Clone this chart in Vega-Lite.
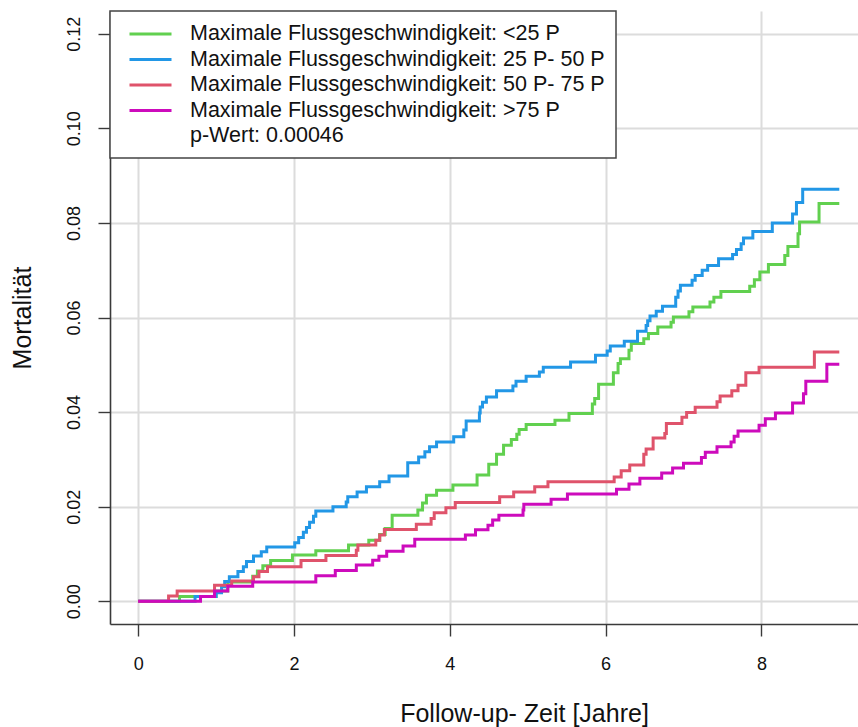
{
  "$schema": "https://vega.github.io/schema/vega-lite/v6.json",
  "autosize": {"type": "none"},
  "padding": {"left": 110, "top": 11, "right": 0, "bottom": 103},
  "width": 748,
  "height": 613,
  "background": "white",
  "config": {
    "view": {"stroke": null},
    "font": "Liberation Sans",
    "axis": {
      "labelFont": "Liberation Sans",
      "titleFont": "Liberation Sans",
      "labelColor": "#111",
      "titleColor": "#111",
      "labelFontSize": 18,
      "titleFontSize": 25,
      "titleFontWeight": "normal",
      "domainColor": "#3a3a3a",
      "domainWidth": 1.6,
      "tickColor": "#3a3a3a",
      "tickWidth": 1.4,
      "tickSize": 12,
      "gridColor": "#dcdcdc",
      "gridWidth": 2
    },
    "legend": {
      "strokeColor": "#444",
      "strokeWidth": 1.5,
      "fillColor": "white",
      "padding": 11
    }
  },
  "data": {
    "values": [
      {"g": "Maximale Flussgeschwindigkeit: <25 P", "t": 0, "y": 0},
      {"g": "Maximale Flussgeschwindigkeit: <25 P", "t": 0.53, "y": 0.001},
      {"g": "Maximale Flussgeschwindigkeit: <25 P", "t": 1.0, "y": 0.0022},
      {"g": "Maximale Flussgeschwindigkeit: <25 P", "t": 1.15, "y": 0.0041},
      {"g": "Maximale Flussgeschwindigkeit: <25 P", "t": 1.47, "y": 0.0053},
      {"g": "Maximale Flussgeschwindigkeit: <25 P", "t": 1.53, "y": 0.0064},
      {"g": "Maximale Flussgeschwindigkeit: <25 P", "t": 1.6, "y": 0.0075},
      {"g": "Maximale Flussgeschwindigkeit: <25 P", "t": 1.7, "y": 0.0086},
      {"g": "Maximale Flussgeschwindigkeit: <25 P", "t": 1.98, "y": 0.0098},
      {"g": "Maximale Flussgeschwindigkeit: <25 P", "t": 2.28, "y": 0.0107},
      {"g": "Maximale Flussgeschwindigkeit: <25 P", "t": 2.7, "y": 0.0119},
      {"g": "Maximale Flussgeschwindigkeit: <25 P", "t": 2.96, "y": 0.0129},
      {"g": "Maximale Flussgeschwindigkeit: <25 P", "t": 3.1, "y": 0.0141},
      {"g": "Maximale Flussgeschwindigkeit: <25 P", "t": 3.17, "y": 0.0154},
      {"g": "Maximale Flussgeschwindigkeit: <25 P", "t": 3.26, "y": 0.0182},
      {"g": "Maximale Flussgeschwindigkeit: <25 P", "t": 3.59, "y": 0.0193},
      {"g": "Maximale Flussgeschwindigkeit: <25 P", "t": 3.65, "y": 0.0208},
      {"g": "Maximale Flussgeschwindigkeit: <25 P", "t": 3.7, "y": 0.0224},
      {"g": "Maximale Flussgeschwindigkeit: <25 P", "t": 3.83, "y": 0.0235},
      {"g": "Maximale Flussgeschwindigkeit: <25 P", "t": 4.04, "y": 0.0246},
      {"g": "Maximale Flussgeschwindigkeit: <25 P", "t": 4.35, "y": 0.0267},
      {"g": "Maximale Flussgeschwindigkeit: <25 P", "t": 4.5, "y": 0.029},
      {"g": "Maximale Flussgeschwindigkeit: <25 P", "t": 4.6, "y": 0.0311},
      {"g": "Maximale Flussgeschwindigkeit: <25 P", "t": 4.69, "y": 0.033},
      {"g": "Maximale Flussgeschwindigkeit: <25 P", "t": 4.79, "y": 0.0342},
      {"g": "Maximale Flussgeschwindigkeit: <25 P", "t": 4.86, "y": 0.0353},
      {"g": "Maximale Flussgeschwindigkeit: <25 P", "t": 4.89, "y": 0.0363},
      {"g": "Maximale Flussgeschwindigkeit: <25 P", "t": 4.98, "y": 0.0374},
      {"g": "Maximale Flussgeschwindigkeit: <25 P", "t": 5.35, "y": 0.0383},
      {"g": "Maximale Flussgeschwindigkeit: <25 P", "t": 5.53, "y": 0.0397},
      {"g": "Maximale Flussgeschwindigkeit: <25 P", "t": 5.83, "y": 0.0417},
      {"g": "Maximale Flussgeschwindigkeit: <25 P", "t": 5.86, "y": 0.0429},
      {"g": "Maximale Flussgeschwindigkeit: <25 P", "t": 5.91, "y": 0.0459},
      {"g": "Maximale Flussgeschwindigkeit: <25 P", "t": 6.1, "y": 0.0483},
      {"g": "Maximale Flussgeschwindigkeit: <25 P", "t": 6.16, "y": 0.0503},
      {"g": "Maximale Flussgeschwindigkeit: <25 P", "t": 6.19, "y": 0.0513},
      {"g": "Maximale Flussgeschwindigkeit: <25 P", "t": 6.3, "y": 0.0531},
      {"g": "Maximale Flussgeschwindigkeit: <25 P", "t": 6.33, "y": 0.0545},
      {"g": "Maximale Flussgeschwindigkeit: <25 P", "t": 6.49, "y": 0.0555},
      {"g": "Maximale Flussgeschwindigkeit: <25 P", "t": 6.55, "y": 0.0566},
      {"g": "Maximale Flussgeschwindigkeit: <25 P", "t": 6.67, "y": 0.058},
      {"g": "Maximale Flussgeschwindigkeit: <25 P", "t": 6.84, "y": 0.059},
      {"g": "Maximale Flussgeschwindigkeit: <25 P", "t": 6.87, "y": 0.0601},
      {"g": "Maximale Flussgeschwindigkeit: <25 P", "t": 7.07, "y": 0.0612},
      {"g": "Maximale Flussgeschwindigkeit: <25 P", "t": 7.12, "y": 0.0622},
      {"g": "Maximale Flussgeschwindigkeit: <25 P", "t": 7.34, "y": 0.0633},
      {"g": "Maximale Flussgeschwindigkeit: <25 P", "t": 7.39, "y": 0.0643},
      {"g": "Maximale Flussgeschwindigkeit: <25 P", "t": 7.48, "y": 0.0655},
      {"g": "Maximale Flussgeschwindigkeit: <25 P", "t": 7.85, "y": 0.0666},
      {"g": "Maximale Flussgeschwindigkeit: <25 P", "t": 7.91, "y": 0.068},
      {"g": "Maximale Flussgeschwindigkeit: <25 P", "t": 7.98, "y": 0.0696},
      {"g": "Maximale Flussgeschwindigkeit: <25 P", "t": 8.09, "y": 0.0712},
      {"g": "Maximale Flussgeschwindigkeit: <25 P", "t": 8.3, "y": 0.0731},
      {"g": "Maximale Flussgeschwindigkeit: <25 P", "t": 8.34, "y": 0.075},
      {"g": "Maximale Flussgeschwindigkeit: <25 P", "t": 8.47, "y": 0.0777},
      {"g": "Maximale Flussgeschwindigkeit: <25 P", "t": 8.49, "y": 0.0802},
      {"g": "Maximale Flussgeschwindigkeit: <25 P", "t": 8.74, "y": 0.0841},
      {"g": "Maximale Flussgeschwindigkeit: <25 P", "t": 9.0, "y": 0.0841},

      {"g": "Maximale Flussgeschwindigkeit: 25 P- 50 P", "t": 0, "y": 0},
      {"g": "Maximale Flussgeschwindigkeit: 25 P- 50 P", "t": 0.73, "y": 0.001},
      {"g": "Maximale Flussgeschwindigkeit: 25 P- 50 P", "t": 1.0, "y": 0.0018},
      {"g": "Maximale Flussgeschwindigkeit: 25 P- 50 P", "t": 1.07, "y": 0.0031},
      {"g": "Maximale Flussgeschwindigkeit: 25 P- 50 P", "t": 1.11, "y": 0.0042},
      {"g": "Maximale Flussgeschwindigkeit: 25 P- 50 P", "t": 1.17, "y": 0.0052},
      {"g": "Maximale Flussgeschwindigkeit: 25 P- 50 P", "t": 1.28, "y": 0.0063},
      {"g": "Maximale Flussgeschwindigkeit: 25 P- 50 P", "t": 1.35, "y": 0.0073},
      {"g": "Maximale Flussgeschwindigkeit: 25 P- 50 P", "t": 1.39, "y": 0.0084},
      {"g": "Maximale Flussgeschwindigkeit: 25 P- 50 P", "t": 1.48, "y": 0.0096},
      {"g": "Maximale Flussgeschwindigkeit: 25 P- 50 P", "t": 1.58, "y": 0.0105},
      {"g": "Maximale Flussgeschwindigkeit: 25 P- 50 P", "t": 1.65, "y": 0.0115},
      {"g": "Maximale Flussgeschwindigkeit: 25 P- 50 P", "t": 2.01, "y": 0.0124},
      {"g": "Maximale Flussgeschwindigkeit: 25 P- 50 P", "t": 2.06, "y": 0.0135},
      {"g": "Maximale Flussgeschwindigkeit: 25 P- 50 P", "t": 2.12, "y": 0.0146},
      {"g": "Maximale Flussgeschwindigkeit: 25 P- 50 P", "t": 2.16, "y": 0.0156},
      {"g": "Maximale Flussgeschwindigkeit: 25 P- 50 P", "t": 2.2, "y": 0.0167},
      {"g": "Maximale Flussgeschwindigkeit: 25 P- 50 P", "t": 2.25, "y": 0.018},
      {"g": "Maximale Flussgeschwindigkeit: 25 P- 50 P", "t": 2.28, "y": 0.0191},
      {"g": "Maximale Flussgeschwindigkeit: 25 P- 50 P", "t": 2.5, "y": 0.02},
      {"g": "Maximale Flussgeschwindigkeit: 25 P- 50 P", "t": 2.67, "y": 0.021},
      {"g": "Maximale Flussgeschwindigkeit: 25 P- 50 P", "t": 2.69, "y": 0.0221},
      {"g": "Maximale Flussgeschwindigkeit: 25 P- 50 P", "t": 2.81, "y": 0.0231},
      {"g": "Maximale Flussgeschwindigkeit: 25 P- 50 P", "t": 2.93, "y": 0.0242},
      {"g": "Maximale Flussgeschwindigkeit: 25 P- 50 P", "t": 3.1, "y": 0.0253},
      {"g": "Maximale Flussgeschwindigkeit: 25 P- 50 P", "t": 3.22, "y": 0.0265},
      {"g": "Maximale Flussgeschwindigkeit: 25 P- 50 P", "t": 3.46, "y": 0.0293},
      {"g": "Maximale Flussgeschwindigkeit: 25 P- 50 P", "t": 3.6, "y": 0.0305},
      {"g": "Maximale Flussgeschwindigkeit: 25 P- 50 P", "t": 3.68, "y": 0.0316},
      {"g": "Maximale Flussgeschwindigkeit: 25 P- 50 P", "t": 3.74, "y": 0.0327},
      {"g": "Maximale Flussgeschwindigkeit: 25 P- 50 P", "t": 3.83, "y": 0.0337},
      {"g": "Maximale Flussgeschwindigkeit: 25 P- 50 P", "t": 4.05, "y": 0.0348},
      {"g": "Maximale Flussgeschwindigkeit: 25 P- 50 P", "t": 4.18, "y": 0.0362},
      {"g": "Maximale Flussgeschwindigkeit: 25 P- 50 P", "t": 4.21, "y": 0.0381},
      {"g": "Maximale Flussgeschwindigkeit: 25 P- 50 P", "t": 4.38, "y": 0.0398},
      {"g": "Maximale Flussgeschwindigkeit: 25 P- 50 P", "t": 4.39, "y": 0.0411},
      {"g": "Maximale Flussgeschwindigkeit: 25 P- 50 P", "t": 4.42, "y": 0.0421},
      {"g": "Maximale Flussgeschwindigkeit: 25 P- 50 P", "t": 4.47, "y": 0.0432},
      {"g": "Maximale Flussgeschwindigkeit: 25 P- 50 P", "t": 4.6, "y": 0.0445},
      {"g": "Maximale Flussgeschwindigkeit: 25 P- 50 P", "t": 4.81, "y": 0.0455},
      {"g": "Maximale Flussgeschwindigkeit: 25 P- 50 P", "t": 4.85, "y": 0.0465},
      {"g": "Maximale Flussgeschwindigkeit: 25 P- 50 P", "t": 4.98, "y": 0.0476},
      {"g": "Maximale Flussgeschwindigkeit: 25 P- 50 P", "t": 5.15, "y": 0.0485},
      {"g": "Maximale Flussgeschwindigkeit: 25 P- 50 P", "t": 5.2, "y": 0.0495},
      {"g": "Maximale Flussgeschwindigkeit: 25 P- 50 P", "t": 5.55, "y": 0.0506},
      {"g": "Maximale Flussgeschwindigkeit: 25 P- 50 P", "t": 5.87, "y": 0.052},
      {"g": "Maximale Flussgeschwindigkeit: 25 P- 50 P", "t": 6.02, "y": 0.0529},
      {"g": "Maximale Flussgeschwindigkeit: 25 P- 50 P", "t": 6.06, "y": 0.054},
      {"g": "Maximale Flussgeschwindigkeit: 25 P- 50 P", "t": 6.24, "y": 0.055},
      {"g": "Maximale Flussgeschwindigkeit: 25 P- 50 P", "t": 6.41, "y": 0.0571},
      {"g": "Maximale Flussgeschwindigkeit: 25 P- 50 P", "t": 6.52, "y": 0.0583},
      {"g": "Maximale Flussgeschwindigkeit: 25 P- 50 P", "t": 6.54, "y": 0.0593},
      {"g": "Maximale Flussgeschwindigkeit: 25 P- 50 P", "t": 6.57, "y": 0.0603},
      {"g": "Maximale Flussgeschwindigkeit: 25 P- 50 P", "t": 6.65, "y": 0.0613},
      {"g": "Maximale Flussgeschwindigkeit: 25 P- 50 P", "t": 6.73, "y": 0.0624},
      {"g": "Maximale Flussgeschwindigkeit: 25 P- 50 P", "t": 6.9, "y": 0.0643},
      {"g": "Maximale Flussgeschwindigkeit: 25 P- 50 P", "t": 6.93, "y": 0.0656},
      {"g": "Maximale Flussgeschwindigkeit: 25 P- 50 P", "t": 6.96, "y": 0.0668},
      {"g": "Maximale Flussgeschwindigkeit: 25 P- 50 P", "t": 7.11, "y": 0.0679},
      {"g": "Maximale Flussgeschwindigkeit: 25 P- 50 P", "t": 7.15, "y": 0.0689},
      {"g": "Maximale Flussgeschwindigkeit: 25 P- 50 P", "t": 7.24, "y": 0.07},
      {"g": "Maximale Flussgeschwindigkeit: 25 P- 50 P", "t": 7.31, "y": 0.071},
      {"g": "Maximale Flussgeschwindigkeit: 25 P- 50 P", "t": 7.45, "y": 0.0724},
      {"g": "Maximale Flussgeschwindigkeit: 25 P- 50 P", "t": 7.63, "y": 0.0733},
      {"g": "Maximale Flussgeschwindigkeit: 25 P- 50 P", "t": 7.68, "y": 0.0744},
      {"g": "Maximale Flussgeschwindigkeit: 25 P- 50 P", "t": 7.74, "y": 0.0756},
      {"g": "Maximale Flussgeschwindigkeit: 25 P- 50 P", "t": 7.77, "y": 0.0768},
      {"g": "Maximale Flussgeschwindigkeit: 25 P- 50 P", "t": 7.89, "y": 0.0782},
      {"g": "Maximale Flussgeschwindigkeit: 25 P- 50 P", "t": 8.14, "y": 0.08},
      {"g": "Maximale Flussgeschwindigkeit: 25 P- 50 P", "t": 8.4, "y": 0.0819},
      {"g": "Maximale Flussgeschwindigkeit: 25 P- 50 P", "t": 8.45, "y": 0.0843},
      {"g": "Maximale Flussgeschwindigkeit: 25 P- 50 P", "t": 8.53, "y": 0.0871},
      {"g": "Maximale Flussgeschwindigkeit: 25 P- 50 P", "t": 9.0, "y": 0.0871},

      {"g": "Maximale Flussgeschwindigkeit: 50 P- 75 P", "t": 0, "y": 0},
      {"g": "Maximale Flussgeschwindigkeit: 50 P- 75 P", "t": 0.39, "y": 0.0011},
      {"g": "Maximale Flussgeschwindigkeit: 50 P- 75 P", "t": 0.5, "y": 0.0022},
      {"g": "Maximale Flussgeschwindigkeit: 50 P- 75 P", "t": 0.98, "y": 0.0034},
      {"g": "Maximale Flussgeschwindigkeit: 50 P- 75 P", "t": 1.2, "y": 0.0043},
      {"g": "Maximale Flussgeschwindigkeit: 50 P- 75 P", "t": 1.48, "y": 0.0052},
      {"g": "Maximale Flussgeschwindigkeit: 50 P- 75 P", "t": 1.55, "y": 0.0063},
      {"g": "Maximale Flussgeschwindigkeit: 50 P- 75 P", "t": 1.66, "y": 0.0073},
      {"g": "Maximale Flussgeschwindigkeit: 50 P- 75 P", "t": 2.09, "y": 0.0086},
      {"g": "Maximale Flussgeschwindigkeit: 50 P- 75 P", "t": 2.41, "y": 0.0097},
      {"g": "Maximale Flussgeschwindigkeit: 50 P- 75 P", "t": 2.8, "y": 0.0108},
      {"g": "Maximale Flussgeschwindigkeit: 50 P- 75 P", "t": 2.82, "y": 0.0119},
      {"g": "Maximale Flussgeschwindigkeit: 50 P- 75 P", "t": 3.05, "y": 0.0129},
      {"g": "Maximale Flussgeschwindigkeit: 50 P- 75 P", "t": 3.1, "y": 0.014},
      {"g": "Maximale Flussgeschwindigkeit: 50 P- 75 P", "t": 3.16, "y": 0.0152},
      {"g": "Maximale Flussgeschwindigkeit: 50 P- 75 P", "t": 3.57, "y": 0.0163},
      {"g": "Maximale Flussgeschwindigkeit: 50 P- 75 P", "t": 3.76, "y": 0.0175},
      {"g": "Maximale Flussgeschwindigkeit: 50 P- 75 P", "t": 3.8, "y": 0.0187},
      {"g": "Maximale Flussgeschwindigkeit: 50 P- 75 P", "t": 3.95, "y": 0.0198},
      {"g": "Maximale Flussgeschwindigkeit: 50 P- 75 P", "t": 4.07, "y": 0.0209},
      {"g": "Maximale Flussgeschwindigkeit: 50 P- 75 P", "t": 4.64, "y": 0.0221},
      {"g": "Maximale Flussgeschwindigkeit: 50 P- 75 P", "t": 4.82, "y": 0.0231},
      {"g": "Maximale Flussgeschwindigkeit: 50 P- 75 P", "t": 5.09, "y": 0.0242},
      {"g": "Maximale Flussgeschwindigkeit: 50 P- 75 P", "t": 5.26, "y": 0.0253},
      {"g": "Maximale Flussgeschwindigkeit: 50 P- 75 P", "t": 6.11, "y": 0.0263},
      {"g": "Maximale Flussgeschwindigkeit: 50 P- 75 P", "t": 6.2, "y": 0.0276},
      {"g": "Maximale Flussgeschwindigkeit: 50 P- 75 P", "t": 6.31, "y": 0.0288},
      {"g": "Maximale Flussgeschwindigkeit: 50 P- 75 P", "t": 6.49, "y": 0.0311},
      {"g": "Maximale Flussgeschwindigkeit: 50 P- 75 P", "t": 6.52, "y": 0.0322},
      {"g": "Maximale Flussgeschwindigkeit: 50 P- 75 P", "t": 6.61, "y": 0.0345},
      {"g": "Maximale Flussgeschwindigkeit: 50 P- 75 P", "t": 6.76, "y": 0.0355},
      {"g": "Maximale Flussgeschwindigkeit: 50 P- 75 P", "t": 6.78, "y": 0.0376},
      {"g": "Maximale Flussgeschwindigkeit: 50 P- 75 P", "t": 6.98, "y": 0.0389},
      {"g": "Maximale Flussgeschwindigkeit: 50 P- 75 P", "t": 7.04, "y": 0.0399},
      {"g": "Maximale Flussgeschwindigkeit: 50 P- 75 P", "t": 7.15, "y": 0.041},
      {"g": "Maximale Flussgeschwindigkeit: 50 P- 75 P", "t": 7.43, "y": 0.0422},
      {"g": "Maximale Flussgeschwindigkeit: 50 P- 75 P", "t": 7.47, "y": 0.0434},
      {"g": "Maximale Flussgeschwindigkeit: 50 P- 75 P", "t": 7.62, "y": 0.0445},
      {"g": "Maximale Flussgeschwindigkeit: 50 P- 75 P", "t": 7.7, "y": 0.0457},
      {"g": "Maximale Flussgeschwindigkeit: 50 P- 75 P", "t": 7.8, "y": 0.0483},
      {"g": "Maximale Flussgeschwindigkeit: 50 P- 75 P", "t": 7.97, "y": 0.0495},
      {"g": "Maximale Flussgeschwindigkeit: 50 P- 75 P", "t": 8.68, "y": 0.0527},
      {"g": "Maximale Flussgeschwindigkeit: 50 P- 75 P", "t": 9.0, "y": 0.0527},

      {"g": "Maximale Flussgeschwindigkeit: >75 P", "t": 0, "y": 0},
      {"g": "Maximale Flussgeschwindigkeit: >75 P", "t": 0.8, "y": 0.001},
      {"g": "Maximale Flussgeschwindigkeit: >75 P", "t": 0.98, "y": 0.0022},
      {"g": "Maximale Flussgeschwindigkeit: >75 P", "t": 1.15, "y": 0.0032},
      {"g": "Maximale Flussgeschwindigkeit: >75 P", "t": 1.47, "y": 0.0041},
      {"g": "Maximale Flussgeschwindigkeit: >75 P", "t": 2.28, "y": 0.0054},
      {"g": "Maximale Flussgeschwindigkeit: >75 P", "t": 2.53, "y": 0.0065},
      {"g": "Maximale Flussgeschwindigkeit: >75 P", "t": 2.8, "y": 0.0077},
      {"g": "Maximale Flussgeschwindigkeit: >75 P", "t": 3.01, "y": 0.0087},
      {"g": "Maximale Flussgeschwindigkeit: >75 P", "t": 3.09, "y": 0.0095},
      {"g": "Maximale Flussgeschwindigkeit: >75 P", "t": 3.19, "y": 0.0106},
      {"g": "Maximale Flussgeschwindigkeit: >75 P", "t": 3.4, "y": 0.0117},
      {"g": "Maximale Flussgeschwindigkeit: >75 P", "t": 3.55, "y": 0.0131},
      {"g": "Maximale Flussgeschwindigkeit: >75 P", "t": 4.2, "y": 0.014},
      {"g": "Maximale Flussgeschwindigkeit: >75 P", "t": 4.33, "y": 0.0151},
      {"g": "Maximale Flussgeschwindigkeit: >75 P", "t": 4.49, "y": 0.0161},
      {"g": "Maximale Flussgeschwindigkeit: >75 P", "t": 4.55, "y": 0.0172},
      {"g": "Maximale Flussgeschwindigkeit: >75 P", "t": 4.63, "y": 0.0182},
      {"g": "Maximale Flussgeschwindigkeit: >75 P", "t": 4.94, "y": 0.0193},
      {"g": "Maximale Flussgeschwindigkeit: >75 P", "t": 4.95, "y": 0.0205},
      {"g": "Maximale Flussgeschwindigkeit: >75 P", "t": 5.3, "y": 0.0216},
      {"g": "Maximale Flussgeschwindigkeit: >75 P", "t": 5.51, "y": 0.0227},
      {"g": "Maximale Flussgeschwindigkeit: >75 P", "t": 6.14, "y": 0.0237},
      {"g": "Maximale Flussgeschwindigkeit: >75 P", "t": 6.3, "y": 0.0248},
      {"g": "Maximale Flussgeschwindigkeit: >75 P", "t": 6.44, "y": 0.026},
      {"g": "Maximale Flussgeschwindigkeit: >75 P", "t": 6.72, "y": 0.0271},
      {"g": "Maximale Flussgeschwindigkeit: >75 P", "t": 6.86, "y": 0.0282},
      {"g": "Maximale Flussgeschwindigkeit: >75 P", "t": 7.0, "y": 0.0292},
      {"g": "Maximale Flussgeschwindigkeit: >75 P", "t": 7.23, "y": 0.0304},
      {"g": "Maximale Flussgeschwindigkeit: >75 P", "t": 7.28, "y": 0.0315},
      {"g": "Maximale Flussgeschwindigkeit: >75 P", "t": 7.43, "y": 0.0327},
      {"g": "Maximale Flussgeschwindigkeit: >75 P", "t": 7.61, "y": 0.0337},
      {"g": "Maximale Flussgeschwindigkeit: >75 P", "t": 7.65, "y": 0.0349},
      {"g": "Maximale Flussgeschwindigkeit: >75 P", "t": 7.7, "y": 0.036},
      {"g": "Maximale Flussgeschwindigkeit: >75 P", "t": 7.97, "y": 0.0372},
      {"g": "Maximale Flussgeschwindigkeit: >75 P", "t": 8.05, "y": 0.0386},
      {"g": "Maximale Flussgeschwindigkeit: >75 P", "t": 8.18, "y": 0.0398},
      {"g": "Maximale Flussgeschwindigkeit: >75 P", "t": 8.4, "y": 0.0419},
      {"g": "Maximale Flussgeschwindigkeit: >75 P", "t": 8.54, "y": 0.0439},
      {"g": "Maximale Flussgeschwindigkeit: >75 P", "t": 8.57, "y": 0.0465},
      {"g": "Maximale Flussgeschwindigkeit: >75 P", "t": 8.84, "y": 0.0501},
      {"g": "Maximale Flussgeschwindigkeit: >75 P", "t": 9.0, "y": 0.0501}
    ]
  },
  "mark": {"type": "line", "interpolate": "step-after", "strokeWidth": 3, "strokeCap": "butt", "clip": true},
  "encoding": {
    "x": {
      "field": "t",
      "type": "quantitative",
      "scale": {"domain": [-0.362, 9.24], "nice": false, "zero": false},
      "axis": {
        "values": [0, 2, 4, 6, 8],
        "format": "d",
        "title": "Follow-up- Zeit [Jahre]",
        "labelPadding": 19,
        "labelBaseline": "top",
        "titleX": 414,
        "titleY": 97,
        "titleAnchor": null,
        "titleAlign": "center",
        "titleBaseline": "alphabetic"
      }
    },
    "y": {
      "field": "y",
      "type": "quantitative",
      "scale": {"domain": [-0.0048, 0.1248], "nice": false, "zero": false},
      "axis": {
        "values": [0, 0.02, 0.04, 0.06, 0.08, 0.1, 0.12],
        "format": ".2f",
        "title": "Mortalität",
        "labelAngle": 270,
        "labelAlign": "center",
        "labelBaseline": "bottom",
        "labelPadding": 15,
        "titleAngle": 270,
        "titleX": -88,
        "titleY": 306.5,
        "titleAlign": "center",
        "titleBaseline": "middle"
      }
    },
    "color": {
      "field": "g",
      "type": "nominal",
      "scale": {
        "domain": [
          "Maximale Flussgeschwindigkeit: <25 P",
          "Maximale Flussgeschwindigkeit: 25 P- 50 P",
          "Maximale Flussgeschwindigkeit: 50 P- 75 P",
          "Maximale Flussgeschwindigkeit: >75 P",
          "p-Wert: 0.00046"
        ],
        "range": ["#61D04F", "#2297E6", "#DF536B", "#CD0BBC", "rgba(0,0,0,0)"]
      },
      "legend": {
        "title": null,
        "orient": "top-left",
        "offset": 0,
        "symbolType": "M-1,0H3",
        "symbolSize": 441,
        "symbolStrokeWidth": 3,
        "symbolOffset": 7,
        "labelFont": "Liberation Sans",
        "labelFontSize": 21.5,
        "labelColor": "#111",
        "labelOffset": 38,
        "labelLimit": 800,
        "rowPadding": 2.5
      }
    }
  }
}
